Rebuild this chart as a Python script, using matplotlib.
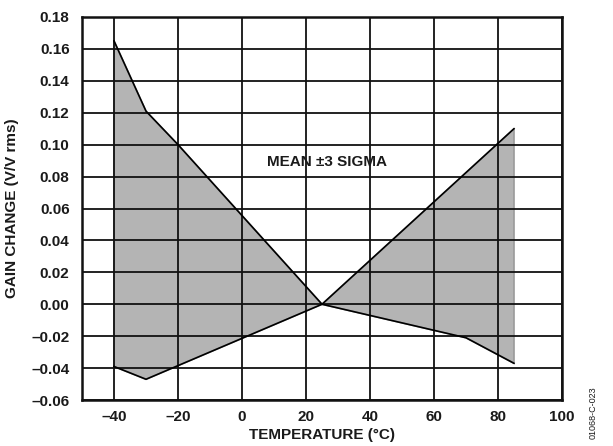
import numpy as np
import matplotlib.pyplot as plt

plt.rcParams['font.family'] = ['Liberation Sans', 'DejaVu Sans']
plt.rcParams['font.weight'] = 'bold'
plt.rcParams['axes.labelweight'] = 'bold'

# upper and lower bounds of gain change, mean +/-3 sigma
temp_upper = [-40, -30, -20, 25, 70, 85]
gain_upper = [0.165, 0.121, 0.100, 0.000, -0.021, -0.037]
temp_lower = [-40, -30, 25, 85]
gain_lower = [-0.039, -0.047, 0.000, 0.110]

x_ticks = [-40, -20, 0, 20, 40, 60, 80, 100]
y_ticks = [-0.06, -0.04, -0.02, 0.00, 0.02, 0.04, 0.06, 0.08, 0.10,
           0.12, 0.14, 0.16, 0.18]

txt = '#1a1a1a'

fig = plt.figure(figsize=(6.13, 4.46), dpi=100)
ax = fig.add_axes((0.1338, 0.1031, 0.7830, 0.8588))

# shaded band between the two bounds
poly_x = np.concatenate([temp_upper, temp_lower[::-1]])
poly_y = np.concatenate([gain_upper, gain_lower[::-1]])
ax.fill(poly_x, poly_y, facecolor='#b4b4b4', edgecolor='#9a9a9a',
        linewidth=1.2, zorder=1)

ax.plot(temp_upper, gain_upper, color='black', linewidth=1.2, zorder=3)
ax.plot(temp_lower, gain_lower, color='black', linewidth=1.2, zorder=3)

ax.set_xlim(-50, 100)
ax.set_ylim(-0.06, 0.18)
ax.set_xticks(x_ticks)
ax.set_yticks(y_ticks)
ax.set_xticklabels([str(t) if t >= 0 else '\u2013' + str(-t) for t in x_ticks])
ax.set_yticklabels(['%.2f' % v if v >= 0 else '\u2013%.2f' % -v
                    for v in y_ticks])
ax.grid(True, color='#111111', linewidth=1.3, zorder=2)
ax.set_axisbelow(False)
ax.tick_params(length=0, labelsize=11, labelcolor=txt)
ax.tick_params(axis='x', pad=7)
ax.tick_params(axis='y', pad=9)
for s in ax.spines.values():
    s.set_linewidth(1.8)
    s.set_color('#111111')
    s.set_zorder(4)

ax.set_xlabel('TEMPERATURE (°C)', fontsize=11, color=txt, labelpad=3)
ax.set_ylabel('GAIN CHANGE (V/V rms)', fontsize=11, color=txt, labelpad=9)

ax.text(26.5, 0.089, 'MEAN ±3 SIGMA', fontsize=11, color=txt,
        ha='center', va='center', zorder=5)

fig.text(0.967, 0.075, '01068-C-023', rotation=90, fontsize=6.5,
         color=txt, ha='center', va='center', fontweight='normal')

fig.savefig('out.png', dpi=100)
